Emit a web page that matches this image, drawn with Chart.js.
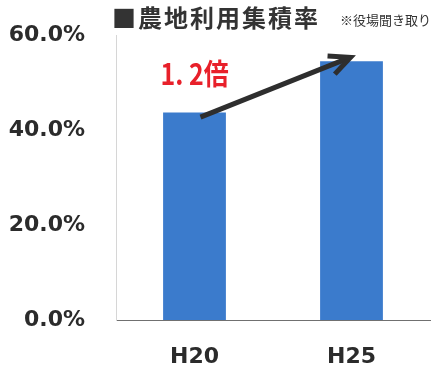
<!DOCTYPE html>
<html>
<head>
<meta charset="utf-8">
<script src="https://cdn.jsdelivr.net/npm/chart.js@4/dist/chart.umd.min.js"></script>
<style>
  html, body { margin: 0; padding: 0; background: #fff; }
  #wrap { width: 435px; height: 376px; }
</style>
</head>
<body>
<div id="wrap"><canvas id="chart" width="435" height="376"></canvas></div>
<script>
/* ─── Data ───────────────────────────────────────────────── */
const YEARS  = ['H20', 'H25'];
const RATES  = [43.7, 54.5];
const Y_TICKS = [0, 20, 40, 60];

const TITLE = '■農地利用集積率';
const NOTE  = '※役場聞き取り';
const GAIN  = '1. 2倍';

const BLUE = '#3b7bcc';
const INK  = '#2b2b2b';

/* ─── Overlay: title, note, arrow, ratio ─────────────────── */
const overlay = {
  id: 'overlay',
  afterDraw(chart) {
    const { ctx, scales: { x, y } } = chart;
    ctx.save();

    // title + source note
    ctx.fillStyle = '#333';
    ctx.textBaseline = 'middle';
    ctx.textAlign = 'left';
    ctx.font = 'bold 24px "Noto Sans CJK JP"';
    ctx.letterSpacing = '2px';
    ctx.fillText(TITLE, 112, 18);
    ctx.letterSpacing = '0px';
    ctx.font = '13px "Noto Sans CJK JP"';
    ctx.fillText(NOTE, 340, 20);

    // arrow from H20 bar to H25 bar
    const x0 = x.getPixelForValue(0) + 6, y0 = y.getPixelForValue(RATES[0] - 1);
    const x1 = x.getPixelForValue(1) - 1, y1 = y.getPixelForValue(55.3);
    const ang = Math.atan2(y1 - y0, x1 - x0);
    ctx.strokeStyle = '#2e2e2e';
    ctx.lineWidth = 5;
    ctx.lineCap = 'butt';
    ctx.lineJoin = 'miter';
    ctx.beginPath();
    ctx.moveTo(x0, y0);
    ctx.lineTo(x1 - 3 * Math.cos(ang), y1 - 3 * Math.sin(ang));
    ctx.stroke();
    const len = 23, spread = 0.44;
    ctx.beginPath();
    ctx.moveTo(x1 - len * Math.cos(ang - spread), y1 - len * Math.sin(ang - spread));
    ctx.lineTo(x1, y1);
    ctx.lineTo(x1 - len * Math.cos(ang + spread), y1 - len * Math.sin(ang + spread));
    ctx.stroke();

    // growth label
    ctx.fillStyle = '#e8202a';
    ctx.textAlign = 'center';
    ctx.font = 'bold 29px "Noto Sans CJK JP"';
    const cx = x.getPixelForValue(0), cy = y.getPixelForValue(51.8);
    ctx.translate(cx, cy);
    ctx.scale(0.86, 1);
    ctx.fillText(GAIN, 0, 0);
    ctx.restore();
  },
};

/* ─── Chart ──────────────────────────────────────────────── */
new Chart(document.getElementById('chart'), {
  type: 'bar',
  data: {
    labels: YEARS,
    datasets: [{
      data: RATES,
      backgroundColor: BLUE,
      barPercentage: 0.4,
      categoryPercentage: 1,
    }],
  },
  options: {
    responsive: false,
    animation: false,
    layout: { padding: { top: 35, right: 5, bottom: 0, left: 0 } },
    plugins: {
      legend: { display: false },
      tooltip: { enabled: false },
    },
    scales: {
      x: {
        afterFit: s => { s.height = 56; },
        grid: { display: false, drawTicks: false },
        border: { display: true, color: '#707070', width: 1 },
        ticks: {
          color: INK,
          padding: 24,
          font: { family: '"DejaVu Sans"', weight: 'bold', size: 22 },
        },
      },
      y: {
        min: 0, max: 60,
        afterFit: s => { s.width = 116; s.paddingTop = 0; s.paddingBottom = 0; },
        afterBuildTicks: s => { s.ticks = Y_TICKS.map(v => ({ value: v })); },
        grid: { display: false, drawTicks: false },
        border: { display: true, color: '#d6d6d6', width: 1, dash: [3, 3] },
        ticks: {
          color: INK,
          padding: 31,
          font: { family: '"DejaVu Sans"', weight: 'bold', size: 22 },
          callback: v => v.toFixed(1) + '%',
        },
      },
    },
  },
  plugins: [overlay],
});
</script>
</body>
</html>
